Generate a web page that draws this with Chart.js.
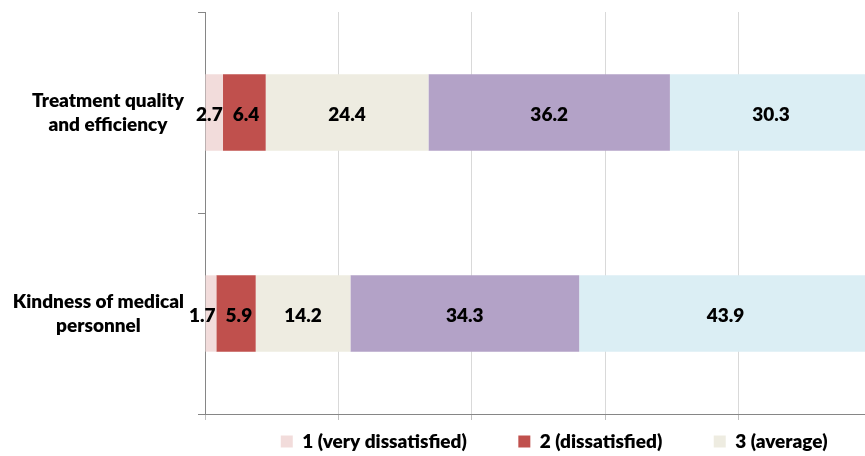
<!DOCTYPE html>
<html>
<head>
<meta charset="utf-8">
<script src="https://cdn.jsdelivr.net/npm/chart.js@4.4.1/dist/chart.umd.min.js"></script>
<style>
  html, body { margin: 0; padding: 0; background: #fff; overflow: hidden; }
  #wrap { width: 865px; height: 456px; overflow: hidden; }
</style>
</head>
<body>
<div id="wrap"><canvas id="myChart" width="1532" height="456"></canvas></div>
<script>
// survey answers, share of respondents in % per rating
var categories = [
    ['Treatment quality', 'and efficiency'],
    ['Kindness of medical', 'personnel']
];
var ratingNames = ['1 (very dissatisfied)', '2 (dissatisfied)', '3 (average)', '4 (satisfied)', '5 (very satisfied)'];
var veryDissatisfied = [2.7, 1.7];
var dissatisfied = [6.4, 5.9];
var average = [24.4, 14.2];
var satisfied = [36.2, 34.3];
var verySatisfied = [30.3, 43.9];
var ratingColors = ['#F2DCDB', '#C0504D', '#EEECE1', '#B3A2C7', '#DBEEF4'];
var xMin = 0, xMax = 100, xStep = 20;

var canvasWidth = 1532;
var plotRight = 872;
var labelFont = '800 19px Lato';

var series = [veryDissatisfied, dissatisfied, average, satisfied, verySatisfied];

// value printed in the middle of each segment; neighbours that would
// touch are pushed apart, mostly moving the left one
var barValueLabels = {
    id: 'barValueLabels',
    afterDatasetsDraw: function (chart) {
        var ctx = chart.ctx;
        ctx.save();
        ctx.font = labelFont;
        ctx.fillStyle = '#000';
        ctx.textAlign = 'center';
        ctx.textBaseline = 'middle';
        var rows = [];
        chart.data.datasets.forEach(function (ds, i) {
            chart.getDatasetMeta(i).data.forEach(function (bar, j) {
                var text = ds.data[j].toFixed(1);
                rows[j] = rows[j] || [];
                rows[j].push({ text: text, w: ctx.measureText(text).width, x: (bar.x + bar.base) / 2, y: bar.y });
            });
        });
        rows.forEach(function (row) {
            for (var k = 1; k < row.length; k++) {
                var a = row[k - 1], b = row[k];
                var gap = (b.x - b.w / 2) - (a.x + a.w / 2);
                if (gap < 10) {
                    a.x -= 0.75 * (10 - gap);
                    b.x += 0.25 * (10 - gap);
                }
            }
            row.forEach(function (l) { ctx.fillText(l.text, l.x, l.y + 2); });
        });
        ctx.restore();
    }
};

// category names, each line centred on the widest line of its label
var categoryLabels = {
    id: 'categoryLabels',
    afterDraw: function (chart) {
        var scale = chart.scales.y;
        var ctx = chart.ctx;
        ctx.save();
        ctx.font = labelFont;
        ctx.fillStyle = '#000';
        ctx.textAlign = 'center';
        ctx.textBaseline = 'middle';
        var right = chart.chartArea.left - 21;
        chart.data.labels.forEach(function (lines, i) {
            var y = scale.getPixelForValue(i);
            var w = Math.max.apply(null, lines.map(function (l) { return ctx.measureText(l).width; }));
            lines.forEach(function (line, k) {
                ctx.fillText(line, right - w / 2, y + (k - (lines.length - 1) / 2) * 24);
            });
        });
        ctx.restore();
    }
};

var legendGap = '         ';

var ctx = document.getElementById('myChart').getContext('2d');
var myChart = new Chart(ctx, {
    type: 'bar',
    data: {
        labels: categories,
        datasets: series.map(function (values, i) {
            return {
                label: ratingNames[i],
                data: values,
                backgroundColor: ratingColors[i],
                borderWidth: 0,
                barPercentage: 0.38,
                categoryPercentage: 1
            };
        })
    },
    options: {
        responsive: false,
        animation: false,
        indexAxis: 'y',
        layout: { padding: { top: 12, bottom: -5, left: 0, right: 0 } },
        plugins: {
            tooltip: { enabled: false },
            legend: {
                position: 'bottom',
                labels: {
                    boxWidth: 12,
                    boxHeight: 12,
                    padding: 12,
                    color: '#000',
                    font: { family: 'Lato', size: 19, weight: 800 },
                    generateLabels: function (chart) {
                        var items = Chart.defaults.plugins.legend.labels.generateLabels(chart);
                        items.forEach(function (it) { it.text += legendGap; });
                        return items;
                    }
                }
            }
        },
        scales: {
            x: {
                stacked: true,
                min: xMin,
                max: xMax,
                ticks: { stepSize: xStep, display: false },
                grid: { color: '#d9d9d9', tickColor: '#bfbfbf', tickLength: 6 },
                border: { color: '#868686' }
            },
            y: {
                stacked: true,
                ticks: { display: false },
                grid: { drawOnChartArea: false, offset: true, tickLength: 7, color: '#868686' },
                border: { color: '#868686' },
                afterFit: function (s) { s.width = 205; }
            },
            rightSpace: {
                type: 'linear',
                position: 'right',
                display: true,
                ticks: { display: false },
                grid: { display: false },
                border: { display: false },
                afterFit: function (s) { s.width = canvasWidth - plotRight; }
            }
        }
    },
    plugins: [barValueLabels, categoryLabels]
});
</script>
</body>
</html>
